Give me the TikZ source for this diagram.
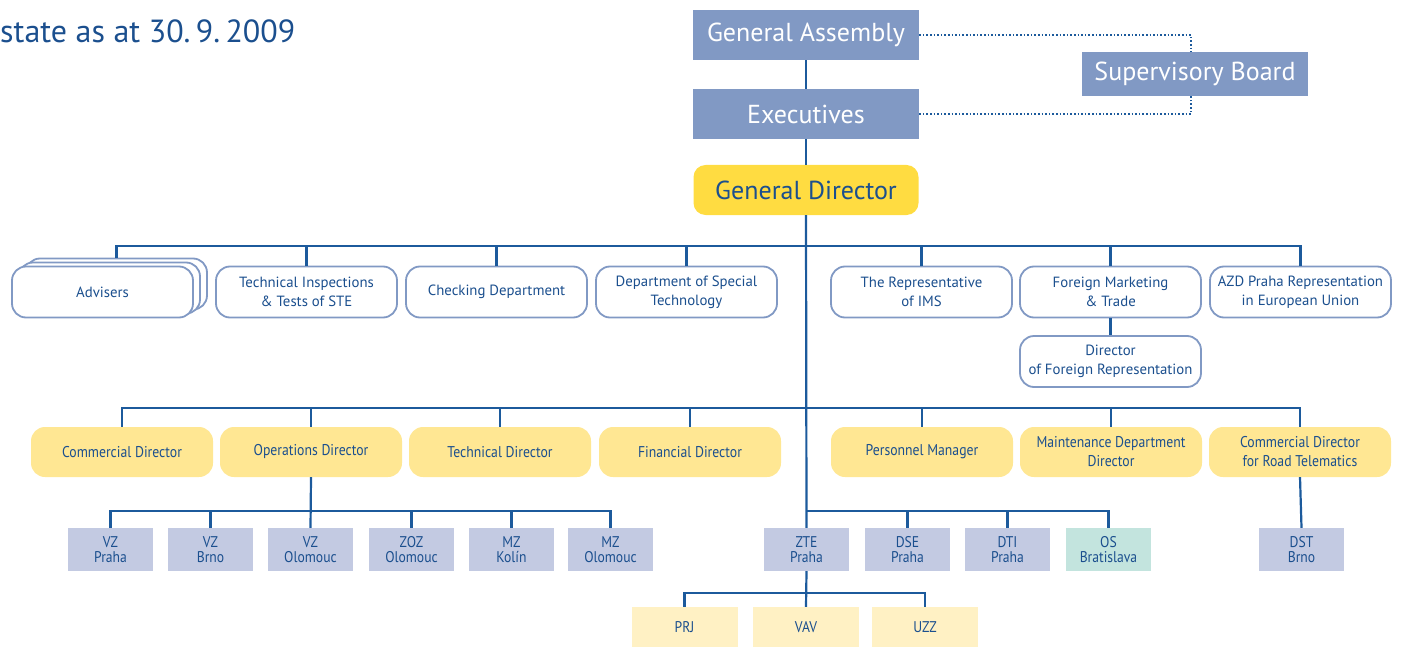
\documentclass[tikz,border=0pt]{standalone}
\usepackage{fontspec}
\setmainfont{PT Sans}
\newfontfamily\condf{PT Sans}[FakeStretch=0.88]
\definecolor{boxblue}{HTML}{8199C4}
\definecolor{linec}{HTML}{1C5A9C}
\definecolor{txt}{HTML}{1B4F8E}
\definecolor{gdyel}{HTML}{FFDC41}
\definecolor{yel}{HTML}{FFE793}
\definecolor{lav}{HTML}{C3CAE2}
\definecolor{teal}{HTML}{C3E4DE}
\definecolor{pyel}{HTML}{FFF1C4}
\tikzset{
  topbox/.style={fill=boxblue,text=white,minimum width=226pt,minimum height=50pt,inner sep=0pt,font=\fontsize{26}{30}\selectfont},
  gdbox/.style={fill=gdyel,text=txt,rounded corners=12pt,minimum width=225pt,minimum height=50pt,inner sep=0pt,font=\fontsize{26}{30}\selectfont},
  obox/.style={draw=boxblue,line width=1.8pt,fill=white,text=txt,rounded corners=14pt,minimum width=181pt,minimum height=51pt,inner sep=0pt,align=center,font=\fontsize{14.8}{19}\selectfont},
  ybox/.style={fill=yel,text=txt,rounded corners=14pt,minimum width=182pt,minimum height=50pt,inner sep=0pt,align=center,font=\condf\fontsize{15.6}{19}\selectfont},
  sbox/.style={fill=lav,text=txt,minimum width=85pt,minimum height=43pt,inner sep=0pt,align=center,font=\condf\fontsize{15.5}{15.5}\selectfont},
  pbox/.style={fill=pyel,text=txt,minimum width=106pt,minimum height=40pt,inner sep=0pt,align=center,font=\condf\fontsize{15.5}{16}\selectfont},
  conn/.style={draw=linec,line width=2.2pt},
  dotc/.style={draw=linec,line width=1.6pt,dotted},
}
\begin{document}
\begin{tikzpicture}[x=1pt,y=-1pt]
\useasboundingbox (0,0) rectangle (1423,647);
\node[anchor=base west,text=txt,font=\fontsize{32}{36}\selectfont,inner sep=0pt] (title) at (0,43) {state as at 30.\,9.\,2009};
% top
\node[topbox] (ga) at (806,35) {General Assembly};
\node[topbox] (ex) at (806,114) {Executives};
\node[topbox,minimum width=226pt,minimum height=44pt] (sb) at (1195,74) {Supervisory Board};
\node[gdbox] (gd) at (806,190) {General Director};
\draw[conn] (ga.south) -- (ex.north);
\draw[conn] (ex.south) -- (gd.north);
\coordinate (sbn) at (1191,52);
\coordinate (sbs) at (1191,96);
\draw[dotc] (ga.east) -| (sbn);
\draw[dotc] (ex.east) -| (sbs);
% row 1
\node[obox] (adv3) at (116.5,284) {};
\node[obox] (adv2) at (109.5,288) {};
\node[obox] (adv) at (102.5,292) {Advisers};
\node[obox] (ti) at (306.5,292) {Technical Inspections\\\& Tests of STE};
\node[obox] (cd) at (496.5,292) {Checking Department};
\node[obox] (dst) at (686.5,292) {Department of Special\\Technology};
\node[obox] (ims) at (921.5,292) {The Representative\\of IMS};
\node[obox] (fmt) at (1110.5,292) {Foreign Marketing\\\& Trade};
\node[obox] (azd) at (1300.5,292) {AZD Praha Representation\\in European Union};
\node[obox] (dfr) at (1110.5,361.5) {Director\\of Foreign Representation};
\coordinate (b1) at (806,246);
\draw[conn] (b1) -| (adv3.north);
\foreach \n in {ti,cd,dst,ims,fmt,azd} \draw[conn] (b1) -| (\n.north);
\draw[conn] (fmt.south) -- (dfr.north);
% row 2
\node[ybox] (comd) at (122,452) {Commercial Director};
\node[ybox] (opsd) at (311,452) {Operations Director};
\node[ybox] (tecd) at (500,452) {Technical Director};
\node[ybox] (find) at (690,452) {Financial Director};
\node[ybox] (perm) at (922,452) {Personnel Manager};
\node[ybox] (mdd) at (1111,452) {Maintenance Department\\Director};
\node[ybox] (cdrt) at (1300,452) {Commercial Director\\for Road Telematics};
\coordinate (b2) at (806,408);
\foreach \n in {comd,opsd,tecd,find,perm,mdd,cdrt} \draw[conn] (b2) -| (\n.north);
% row 3
\node[sbox] (vzp) at (110.5,549.5) {VZ\\Praha};
\node[sbox] (vzb) at (210.5,549.5) {VZ\\Brno};
\node[sbox] (vzo) at (310.5,549.5) {VZ\\Olomouc};
\node[sbox] (zoz) at (411.5,549.5) {ZOZ\\Olomouc};
\node[sbox] (mzk) at (511.5,549.5) {MZ\\Kolín};
\node[sbox] (mzo) at (610.5,549.5) {MZ\\Olomouc};
\node[sbox] (zte) at (806.5,549.5) {ZTE\\Praha};
\node[sbox] (dse) at (907.5,549.5) {DSE\\Praha};
\node[sbox] (dti) at (1007.5,549.5) {DTI\\Praha};
\node[sbox,fill=teal] (os) at (1108.5,549.5) {OS\\Bratislava};
\node[sbox] (dstb) at (1301.5,549.5) {DST\\Brno};
\draw[conn] (gd.south) -- (zte.north);
\draw[conn] (opsd.south) -- (vzo.north);
\coordinate (b3) at (310.5,511);
\foreach \n in {vzp,vzb,zoz,mzk,mzo} \draw[conn] (b3) -| (\n.north);
\coordinate (b4) at (806.5,511);
\foreach \n in {dse,dti,os} \draw[conn] (b4) -| (\n.north);
\draw[conn] (cdrt.south) -- (dstb.north);
% row 4
\node[pbox] (prj) at (684.5,627) {PRJ};
\node[pbox] (vav) at (806,627) {VAV};
\node[pbox] (uzz) at (925,627) {UZZ};
\draw[conn] (zte.south) -- (vav.north);
\coordinate (b5) at (806,593);
\foreach \n in {prj,uzz} \draw[conn] (b5) -| (\n.north);
\end{tikzpicture}
\end{document}
